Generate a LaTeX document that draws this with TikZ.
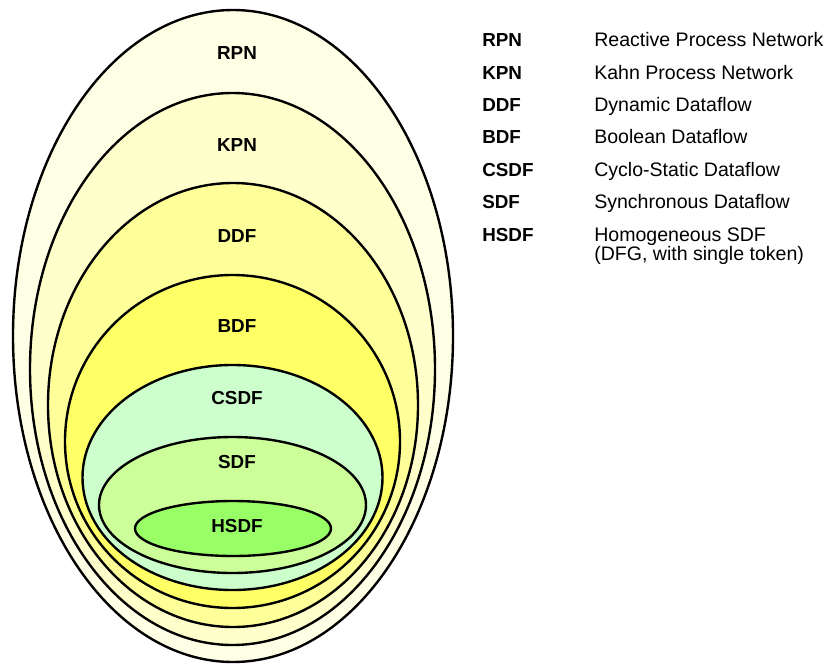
\documentclass[tikz,border=0pt]{standalone}
\usepackage{fontspec}
\setmainfont{Liberation Sans}
\begin{document}
\begin{tikzpicture}[x=0.025cm,y=-0.025cm,
  set/.style={draw=black,line width=1.7pt},
  setlabel/.style={font=\fontsize{13.4pt}{16pt}\selectfont\bfseries,inner sep=0pt},
  keyname/.style={font=\fontsize{13.4pt}{16pt}\selectfont\bfseries,anchor=base west,inner sep=0pt},
  keytext/.style={font=\fontsize{13.9pt}{16pt}\selectfont,anchor=base west,inner sep=0pt}]
  \useasboundingbox (0,0) rectangle (827,664);
  \definecolor{cRPN}{HTML}{FFFFE6}
  \definecolor{cKPN}{HTML}{FFFFCC}
  \definecolor{cDDF}{HTML}{FFFF99}
  \definecolor{cBDF}{HTML}{FFFF66}
  \definecolor{cCSDF}{HTML}{CCFFCC}
  \definecolor{cSDF}{HTML}{CCFF99}
  \definecolor{cHSDF}{HTML}{99FF66}
  % nested model classes, outermost first
  \draw[set,fill=cRPN]  (233,336)   ellipse [x radius=220,   y radius=326];
  \draw[set,fill=cKPN]  (232.5,369) ellipse [x radius=202.5, y radius=276];
  \draw[set,fill=cDDF]  (233,405)   ellipse [x radius=185,   y radius=222];
  \draw[set,fill=cBDF]  (232.5,441.5) ellipse [x radius=167.5, y radius=166.5];
  \draw[set,fill=cCSDF] (232.5,477.5) ellipse [x radius=150,   y radius=112.5];
  \draw[set,fill=cSDF]  (232.5,505) ellipse [x radius=133.5, y radius=68];
  \draw[set,fill=cHSDF] (233,528.5) ellipse [x radius=98,    y radius=27.5];
  % class names inside the sets
  \node[setlabel] (lRPN)  at (237,53)  {RPN};
  \node[setlabel] (lKPN)  at (237,145) {KPN};
  \node[setlabel] (lDDF)  at (237,236) {DDF};
  \node[setlabel] (lBDF)  at (237,326) {BDF};
  \node[setlabel] (lCSDF) at (237,398) {CSDF};
  \node[setlabel] (lSDF)  at (237,462) {SDF};
  \node[setlabel] (lHSDF) at (237,526) {HSDF};
  % key
  \node[keyname] (kRPN)  at (482,46)  {RPN};
  \node[keyname] (kKPN)  at (482,79)  {KPN};
  \node[keyname] (kDDF)  at (482,111) {DDF};
  \node[keyname] (kBDF)  at (482,143) {BDF};
  \node[keyname] (kCSDF) at (482,176) {CSDF};
  \node[keyname] (kSDF)  at (482,208) {SDF};
  \node[keyname] (kHSDF) at (482,241) {HSDF};
  \node[keytext] (tRPN)  at (594,46)  {Reactive Process Network};
  \node[keytext] (tKPN)  at (594,79)  {Kahn Process Network};
  \node[keytext] (tDDF)  at (594,111) {Dynamic Dataflow};
  \node[keytext] (tBDF)  at (594,143) {Boolean Dataflow};
  \node[keytext] (tCSDF) at (594,176) {Cyclo-Static Dataflow};
  \node[keytext] (tSDF)  at (594,208) {Synchronous Dataflow};
  \node[keytext] (tHSDF) at (594,241) {Homogeneous SDF};
  \node[keytext] (tHSDFb) at (594,260) {(DFG, with single token)};
\end{tikzpicture}
\end{document}
